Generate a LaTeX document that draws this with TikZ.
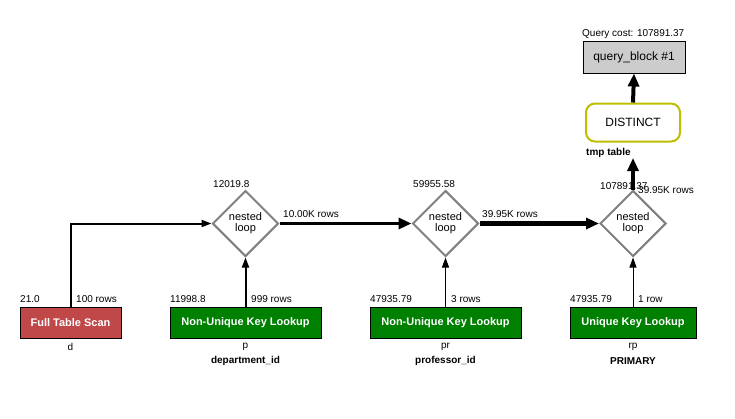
\documentclass[tikz,border=0pt]{standalone}
\usepackage{fontspec}
\setmainfont{Liberation Sans}
\usetikzlibrary{shapes.geometric,arrows.meta}
\definecolor{ftscol}{RGB}{192,72,72}
\definecolor{grn}{RGB}{0,128,0}
\definecolor{distcol}{RGB}{190,190,0}
\definecolor{qbg}{RGB}{204,204,204}
\definecolor{lgray}{RGB}{128,128,128}
\begin{document}
\begin{tikzpicture}[x=1pt,y=-1pt,
  accbox/.style={draw=black,line width=1pt,text=white,font=\fontsize{11}{13}\selectfont\bfseries,inner sep=0pt,minimum height=31pt},
  loopnode/.style={diamond,draw=lgray,line width=2pt,minimum width=66pt,minimum height=66pt,inner sep=0pt,align=center,font=\fontsize{11}{11}\selectfont},
  lbl/.style={font=\fontsize{10}{12}\selectfont,inner sep=0pt},
  blbl/.style={font=\fontsize{10}{12}\selectfont\bfseries,inner sep=0pt},
  thinedge/.style={-{Triangle[length=10pt,width=7pt]}},
  thickedge/.style={-{Triangle[length=13pt,width=11pt]}}
]
\fill[white] (0,0) rectangle (735,418);
% access boxes
\node[accbox,fill=ftscol,minimum width=101pt] (fts) at (70.5,322.5) {Full Table Scan};
\node[accbox,fill=grn,minimum width=151pt] (p) at (245.5,322.5) {Non-Unique Key Lookup};
\node[accbox,fill=grn,minimum width=151pt] (pr) at (445.5,322.5) {Non-Unique Key Lookup};
\node[accbox,fill=grn,minimum width=126pt] (rp) at (633,322.5) {Unique Key Lookup};
% loops
\node[loopnode] (l1) at (245.5,223.5) {nested\\loop};
\node[loopnode] (l2) at (445.5,223.5) {nested\\loop};
\node[loopnode] (l3) at (633,223.5) {nested\\loop};
% distinct and query block
\node[draw=distcol,line width=2pt,rounded corners=9pt,minimum width=94pt,minimum height=38pt,font=\fontsize{12}{14}\selectfont] (dst) at (633,122.5) {DISTINCT};
\node[draw=black,fill=qbg,line width=1pt,minimum width=102pt,minimum height=32pt,font=\fontsize{12}{14}\selectfont] (qb) at (634,57) {query\_block \#1};
% labels
\node[lbl,anchor=base west] (qc) at (582,36) {Query cost: 107891.37};
\node[blbl,anchor=base west] (tmp) at (586,155) {tmp table};
\coordinate (tmpend) at (633,158);
\node[lbl,anchor=base west] (c3) at (600,189) {107891.37};
\node[lbl,anchor=base west] (r3) at (638,193) {39.95K rows};
\node[lbl,anchor=base west] (c1) at (213,187) {12019.8};
\node[lbl,anchor=base west] (c2) at (413,187) {59955.58};
\node[lbl,anchor=base west] (r12) at (283,217) {10.00K rows};
\node[lbl,anchor=base west] (r23) at (482,217) {39.95K rows};
\node[lbl,anchor=base west] (cf) at (20,302) {21.0};
\node[lbl,anchor=base west] (rf) at (76,302) {100 rows};
\node[lbl,anchor=base west] (cp) at (170,302) {11998.8};
\node[lbl,anchor=base west] (rpr) at (251,302) {999 rows};
\node[lbl,anchor=base west] (cpr) at (370,302) {47935.79};
\node[lbl,anchor=base west] (rprr) at (451,302) {3 rows};
\node[lbl,anchor=base west] (crp) at (570,302) {47935.79};
\node[lbl,anchor=base west] (rrp) at (638,302) {1 row};
\node[lbl] (tf) at (70.5,347) {d};
\node[lbl] (tp) at (245.5,347) {p};
\node[blbl] (kp) at (245.5,361) {department\_id};
\node[lbl] (tpr) at (445.5,347) {pr};
\node[blbl] (kpr) at (445.5,361) {professor\_id};
\node[lbl] (trp) at (633,347) {rp};
\node[blbl] (krp) at (633,361) {PRIMARY};
% edges
\draw[thinedge,line width=2pt] (fts.north) |- (l1.west);
\draw[thinedge,line width=2pt] (p.north) -- (l1.south);
\draw[thickedge,line width=3.5pt] (l1.east) -- (l2.west);
\draw[thinedge,line width=1pt] (pr.north) -- (l2.south);
\draw[thickedge,line width=5pt] (l2.east) -- (l3.west);
\draw[thinedge,line width=1pt] (rp.north) -- (l3.south);
\draw[thickedge,line width=4pt] (l3.north) -- (tmpend);
\draw[thickedge,line width=4pt] (dst.north) -- (qb.south);
\end{tikzpicture}
\end{document}
